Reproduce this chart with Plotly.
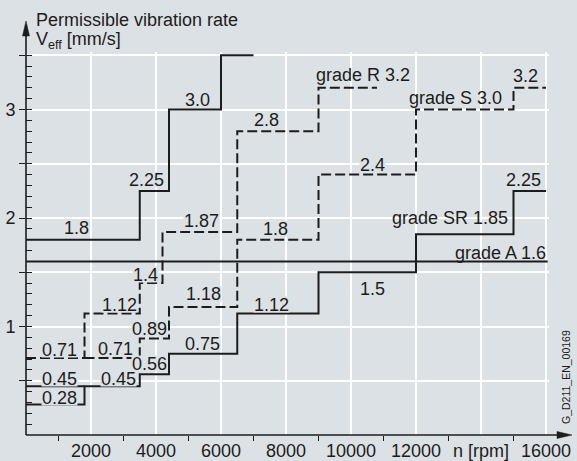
import plotly.graph_objects as go

# ---------------- data ----------------
grade_N_rpm = [0, 3500, 4400, 6000, 7000]
grade_N_v = [1.8, 2.25, 3.0, 3.5]

grade_R_rpm = [0, 1800, 3500, 4200, 6500, 9000, 10800]
grade_R_v = [0.71, 1.12, 1.4, 1.87, 2.8, 3.2]

grade_S_rpm = [0, 1800, 3500, 4400, 6500, 9000, 12000, 15000, 16000]
grade_S_v = [0.45, 0.71, 0.89, 1.18, 1.8, 2.4, 3.0, 3.2]

grade_SR_rpm = [0, 1800, 3500, 4400, 6500, 9000, 12000, 15000, 16000]
grade_SR_v = [0.28, 0.45, 0.56, 0.75, 1.12, 1.5, 1.85, 2.25]

grade_A_rpm = [0, 16050]
grade_A_v = [1.6]

x_tick_vals = [2000, 4000, 6000, 8000, 10000, 12000, 14000, 16000]
x_tick_text = ["2000", "4000", "6000", "8000", "10000", "12000", "n [rpm]", "16000"]
x_minor_vals = [1000, 3000, 5000, 7000, 9000, 11000, 13000, 15000]
y_tick_vals = [0.5, 1.0, 1.5, 2.0, 2.5, 3.0, 3.5]
y_tick_text = ["", "1", "", "2", "", "3", ""]

# value labels: (text, rpm, value position)
labels = [
    ("1.8", 1540, 1.93), ("2.25", 3700, 2.376), ("3.0", 5290, 3.11),
    ("2.8", 7415, 2.93), ("1.87", 5415, 1.993), ("1.8", 7672, 1.922),
    ("2.4", 10646, 2.514), ("3.2", 15354, 3.335), ("2.25", 15298, 2.376),
    ("1.4", 3687, 1.50), ("1.12", 2862, 1.224), ("1.18", 5472, 1.325),
    ("1.12", 7564, 1.224), ("0.89", 3815, 1.0), ("0.75", 5440, 0.865),
    ("0.71", 1021, 0.81), ("0.71", 2764, 0.819), ("0.56", 3785, 0.68),
    ("0.45", 1031, 0.542), ("0.45", 2831, 0.542), ("0.28", 1031, 0.364),
    ("1.5", 10662, 1.369),
]
grade_labels = [
    ("grade N 3.5", 6062, 3.636), ("grade R 3.2", 8846, 3.335),
    ("grade S 3.0", 11713, 3.129), ("grade SR 1.85", 11200, 2.017),
    ("grade A 1.6", 13150, 1.700),
]

BG = "#dce1e5"
INK = "#1c1c1c"
FONT = "Liberation Sans, Arial, sans-serif"
FS = 18

# plot area in pixels (for paper-coordinate helpers)
L, R, T, B = 26, 28, 52, 26
W, H = 577, 461
PW, PH = W - L - R, H - T - B


def px_x(px):
    return (px - L) / PW


def px_y(py):
    return (H - B - py) / PH


def steps(rpm, v):
    return list(rpm), list(v) + [v[-1]]


fig = go.Figure()


def add(rpm, v, dash, name):
    xs, ys = steps(rpm, v)
    fig.add_trace(go.Scatter(x=xs, y=ys, mode="lines", line_shape="hv",
                             line=dict(color=INK, width=2, dash=dash),
                             name=name, showlegend=False, hoverinfo="skip"))


add(grade_A_rpm, grade_A_v, "solid", "A")
add(grade_SR_rpm, grade_SR_v, "solid", "SR")
add(grade_S_rpm[1:], grade_S_v[1:], "10px,4px", "S")
add(grade_S_rpm[:2], grade_S_v[:1], "solid", "S first")
add(grade_R_rpm, grade_R_v, "10px,4px", "R")
add(grade_N_rpm, grade_N_v, "solid", "N")
# invisible trace for the inner-tick overlay axis
fig.add_trace(go.Scatter(x=[0], y=[0], yaxis="y2", mode="markers",
                         marker=dict(opacity=0), showlegend=False, hoverinfo="skip"))

ann = []
for t, x, y in labels:
    ann.append(dict(x=x, y=y, text=t, showarrow=False, xanchor="center", yanchor="middle",
                    yshift=-2, height=15, valign="middle",
                    font=dict(size=FS, color=INK, family=FONT), bgcolor=BG, borderpad=0))
for t, x, y in grade_labels:
    ann.append(dict(x=x, y=y, text=t, showarrow=False, xanchor="left", yanchor="middle",
                    yshift=-2,
                    font=dict(size=FS, color=INK, family=FONT)))

ann.append(dict(xref="paper", yref="paper", x=px_x(34), y=px_y(20),
                text="Permissible vibration rate", showarrow=False,
                xanchor="left", yanchor="middle", font=dict(size=FS, color=INK, family=FONT)))
ann.append(dict(xref="paper", yref="paper", x=px_x(34), y=px_y(41),
                text="V<sub>eff</sub> [mm/s]", showarrow=False,
                xanchor="left", yanchor="middle", font=dict(size=FS, color=INK, family=FONT)))
ann.append(dict(xref="paper", yref="paper", x=px_x(566), y=px_y(377), text="G_D211_EN_00169",
                showarrow=False, textangle=-90, xanchor="center", yanchor="middle",
                font=dict(size=10.5, color=INK, family=FONT)))


# axis lines with arrowheads (decoration, in paper coordinates)
def tri(p1, p2, p3):
    pts = [p1, p2, p3]
    return "M " + " L ".join("%.5f,%.5f" % (px_x(a), px_y(b)) for a, b in pts) + " Z"


shapes = [
    dict(type="line", xref="paper", yref="paper", x0=0, y0=0, x1=0, y1=px_y(32),
         line=dict(color=INK, width=1.6)),
    dict(type="line", xref="paper", yref="paper", x0=0, y0=0, x1=px_x(562), y1=0,
         line=dict(color=INK, width=1.6)),
    dict(type="path", xref="paper", yref="paper", path=tri((26, 21), (22.5, 36), (29.5, 36)),
         fillcolor=INK, line=dict(color=INK, width=0.5)),
    dict(type="path", xref="paper", yref="paper", path=tri((572, 435), (557, 431.5), (557, 438.5)),
         fillcolor=INK, line=dict(color=INK, width=0.5)),
]

fig.update_layout(
    width=W, height=H,
    margin=dict(l=L, r=R, t=T, b=B, autoexpand=False),
    paper_bgcolor=BG, plot_bgcolor=BG,
    font=dict(family=FONT, size=FS, color=INK),
    annotations=ann,
    shapes=shapes,
    xaxis=dict(range=[0, 16092], tickmode="array", tickvals=x_tick_vals, ticktext=x_tick_text,
               showgrid=True, gridcolor="white", gridwidth=2, zeroline=False, showline=False,
               ticks="", ticklabelstandoff=3, automargin=False,
               minor=dict(tickmode="array", tickvals=x_minor_vals, ticks="outside",
                          ticklen=5, tickwidth=1.3, tickcolor=INK, showgrid=False),
               tickfont=dict(size=FS, color=INK, family=FONT)),
    yaxis=dict(range=[0, 3.53], tickmode="array", tickvals=y_tick_vals, ticktext=y_tick_text,
               showgrid=True, gridcolor="white", gridwidth=2, zeroline=False, showline=False,
               ticks="outside", ticklen=6, tickwidth=1.3, tickcolor=INK, automargin=False,
               tickfont=dict(size=FS, color=INK, family=FONT)),
    yaxis2=dict(range=[0, 3.53], overlaying="y", side="left", tickmode="linear", tick0=0,
                dtick=0.1, ticks="inside", ticklen=6, tickwidth=1.3, tickcolor=INK,
                showticklabels=False, showgrid=False, zeroline=False, showline=False,
                automargin=False),
)

fig.write_html("out.html", config={"displayModeBar": False},
               post_script="document.body.style.margin='0';document.body.style.background='%s';" % BG)
